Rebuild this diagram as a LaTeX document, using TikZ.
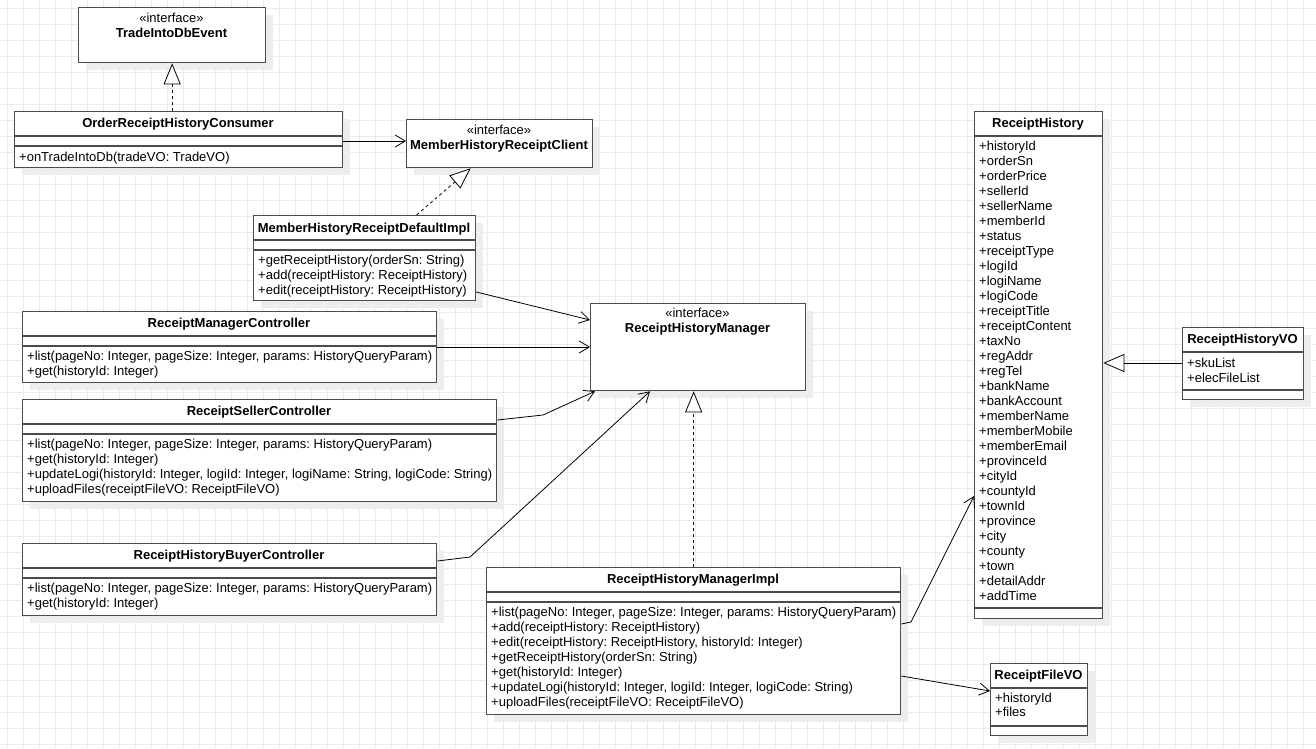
\documentclass[tikz,border=0pt]{standalone}
\usepackage{fontspec}
\setmainfont{Liberation Sans}
\usetikzlibrary{arrows.meta,shadows}
\frenchspacing

\begin{document}
\begin{tikzpicture}[x=1pt,y=-1pt,
  gridline/.style={draw=black!8, line width=0.7pt},
  clsbox/.style={draw=black!70, line width=1.3pt, fill=white, anchor=north west, inner sep=0pt,
    drop shadow={shadow xshift=7pt, shadow yshift=-7pt, fill=black!7, opacity=1}},
  sepline/.style={draw=black!70, line width=1.3pt},
  clsname/.style={anchor=base, inner sep=0pt, font=\fontsize{13}{15}\selectfont\bfseries},
  stereo/.style={anchor=base, inner sep=0pt, font=\fontsize{13}{15}\selectfont},
  memb/.style={anchor=base west, inner sep=0pt, font=\fontsize{13}{15}\selectfont},
  assoc/.style={draw=black, line width=0.8pt, -{Straight Barb[length=10pt,width=12pt]}},
  realize/.style={draw=black, line width=0.8pt, dashed, -{Triangle[length=21pt,width=17pt,fill=white]}},
  inherit/.style={draw=black, line width=0.8pt, -{Triangle[length=21pt,width=18pt,fill=white]}}]

\useasboundingbox[fill=white] (0,0) rectangle (1316,748);
\foreach \gx in {7,23,...,1316}
	\draw[gridline] (\gx,0) -- (\gx,748);
\foreach \gy in {8,24,...,748}
	\draw[gridline] (0,\gy) -- (1316,\gy);

% interfaces
\node[clsbox, minimum width=187pt, minimum height=55pt] (evt) at (78,7) {};
\node[stereo] (evt-st) at (171.5,22) {«interface»};
\node[clsname] (evt-nm) at (171.5,37) {TradeIntoDbEvent};

\node[clsbox, minimum width=186pt, minimum height=48pt] (client) at (406,119) {};
\node[stereo] (client-st) at (499,134) {«interface»};
\node[clsname] (client-nm) at (499,149) {MemberHistoryReceiptClient};

\node[clsbox, minimum width=215pt, minimum height=87pt] (rhm) at (590,303) {};
\node[stereo] (rhm-st) at (697.5,317) {«interface»};
\node[clsname] (rhm-nm) at (697.5,332) {ReceiptHistoryManager};

% classes
\node[clsbox, minimum width=328pt, minimum height=56pt] (cons) at (14,111) {};
\node[clsname] (cons-nm) at (178,127) {OrderReceiptHistoryConsumer};
\node[memb] (cons-1) at (19,161) {+onTradeIntoDb(tradeVO: TradeVO)};
\foreach \ly in {136,146}
	\draw[sepline] (cons.west |- 0,\ly) -- (cons.east |- 0,\ly);

\node[clsbox, minimum width=222pt, minimum height=85pt] (dimpl) at (253,215) {};
\node[clsname] (dimpl-nm) at (364,232) {MemberHistoryReceiptDefaultImpl};
\foreach \m [count=\i] in {{getReceiptHistory(orderSn: String)}, {add(receiptHistory: ReceiptHistory)}, {edit(receiptHistory: ReceiptHistory)}}
	\node[memb] (dimpl-\i) at (258,249+15*\i) {+\m};
\foreach \ly in {240,250}
	\draw[sepline] (dimpl.west |- 0,\ly) -- (dimpl.east |- 0,\ly);

\node[clsbox, minimum width=414pt, minimum height=71pt] (rmc) at (22,311) {};
\node[clsname] (rmc-nm) at (229,327) {ReceiptManagerController};
\foreach \m [count=\i] in {{list(pageNo: Integer, pageSize: Integer, params: HistoryQueryParam)}, {get(historyId: Integer)}}
	\node[memb] (rmc-\i) at (27,345+15*\i) {+\m};
\foreach \ly in {336,346}
	\draw[sepline] (rmc.west |- 0,\ly) -- (rmc.east |- 0,\ly);

\node[clsbox, minimum width=474pt, minimum height=102pt] (rsc) at (22,399) {};
\node[clsname] (rsc-nm) at (259,415) {ReceiptSellerController};
\foreach \m [count=\i] in {{list(pageNo: Integer, pageSize: Integer, params: HistoryQueryParam)}, {get(historyId: Integer)}, {updateLogi(historyId: Integer, logiId: Integer, logiName: String, logiCode: String)}, {uploadFiles(receiptFileVO: ReceiptFileVO)}}
	\node[memb] (rsc-\i) at (27,433+15*\i) {+\m};
\foreach \ly in {424,434}
	\draw[sepline] (rsc.west |- 0,\ly) -- (rsc.east |- 0,\ly);

\node[clsbox, minimum width=414pt, minimum height=72pt] (rbc) at (22,543) {};
\node[clsname] (rbc-nm) at (229,559) {ReceiptHistoryBuyerController};
\foreach \m [count=\i] in {{list(pageNo: Integer, pageSize: Integer, params: HistoryQueryParam)}, {get(historyId: Integer)}}
	\node[memb] (rbc-\i) at (27,577+15*\i) {+\m};
\foreach \ly in {568,578}
	\draw[sepline] (rbc.west |- 0,\ly) -- (rbc.east |- 0,\ly);

\node[clsbox, minimum width=414pt, minimum height=147pt] (impl) at (486,567) {};
\node[clsname] (impl-nm) at (693,583) {ReceiptHistoryManagerImpl};
\foreach \m [count=\i] in {{list(pageNo: Integer, pageSize: Integer, params: HistoryQueryParam)}, {add(receiptHistory: ReceiptHistory)}, {edit(receiptHistory: ReceiptHistory, historyId: Integer)}, {getReceiptHistory(orderSn: String)}, {get(historyId: Integer)}, {updateLogi(historyId: Integer, logiId: Integer, logiCode: String)}, {uploadFiles(receiptFileVO: ReceiptFileVO)}}
	\node[memb] (impl-\i) at (491,601+15*\i) {+\m};
\foreach \ly in {592,602}
	\draw[sepline] (impl.west |- 0,\ly) -- (impl.east |- 0,\ly);

% value objects
\node[clsbox, minimum width=128pt, minimum height=507pt] (hist) at (974,111) {};
\node[clsname] (hist-nm) at (1038,127) {ReceiptHistory};
\foreach \m [count=\i] in {historyId, orderSn, orderPrice, sellerId, sellerName, memberId, status, receiptType, logiId, logiName, logiCode, receiptTitle, receiptContent, taxNo, regAddr, regTel, bankName, bankAccount, memberName, memberMobile, memberEmail, provinceId, cityId, countyId, townId, province, city, county, town, detailAddr, addTime}
	\node[memb] (hist-\i) at (979,135+15*\i) {+\m};
\foreach \ly in {136,608}
	\draw[sepline] (hist.west |- 0,\ly) -- (hist.east |- 0,\ly);

\node[clsbox, minimum width=121pt, minimum height=72pt] (hvo) at (1182,327) {};
\node[clsname] (hvo-nm) at (1242.5,343) {ReceiptHistoryVO};
\foreach \m [count=\i] in {skuList, elecFileList}
	\node[memb] (hvo-\i) at (1187,352+15*\i) {+\m};
\foreach \ly in {352,390}
	\draw[sepline] (hvo.west |- 0,\ly) -- (hvo.east |- 0,\ly);

\node[clsbox, minimum width=97pt, minimum height=72pt] (fvo) at (990,663) {};
\node[clsname] (fvo-nm) at (1038.5,679) {ReceiptFileVO};
\foreach \m [count=\i] in {historyId, files}
	\node[memb] (fvo-\i) at (995,688+14*\i) {+\m};
\foreach \ly in {688,726}
	\draw[sepline] (fvo.west |- 0,\ly) -- (fvo.east |- 0,\ly);

% bends
\coordinate (sellerbend) at (543,415);
\coordinate (buyerbend) at (470,557);
\coordinate (histbend) at (911,622);

% relations
\draw[realize] (evt.south |- cons.north) -- (evt.south);
\draw[realize] ([xshift=52pt]dimpl.north) -- ([xshift=-29pt]client.south);
\draw[realize] (impl.north) -- (impl.north |- rhm.south);
\draw[inherit] (hvo.west |- 0,363) -- (hist.east |- 0,363);

\draw[assoc] (cons.east |- 0,141) -- (client.west |- 0,141);
\draw[assoc] (dimpl.east |- 0,292) -- (rhm.west |- 0,320);
\draw[assoc] (rmc.east |- 0,347) -- (rhm.west |- 0,347);
\draw[assoc] (rsc.east |- 0,420) -- (sellerbend) -- ([xshift=5pt]rhm.south west);
\draw[assoc] (rbc.east |- 0,561) -- (buyerbend) -- (rhm.south -| 650,0);
\draw[assoc] (impl.east |- 0,624) -- (histbend) -- (hist.west |- 0,496);
\draw[assoc] (impl.east |- 0,676) -- (fvo.west |- 0,691);

\end{tikzpicture}
\end{document}
